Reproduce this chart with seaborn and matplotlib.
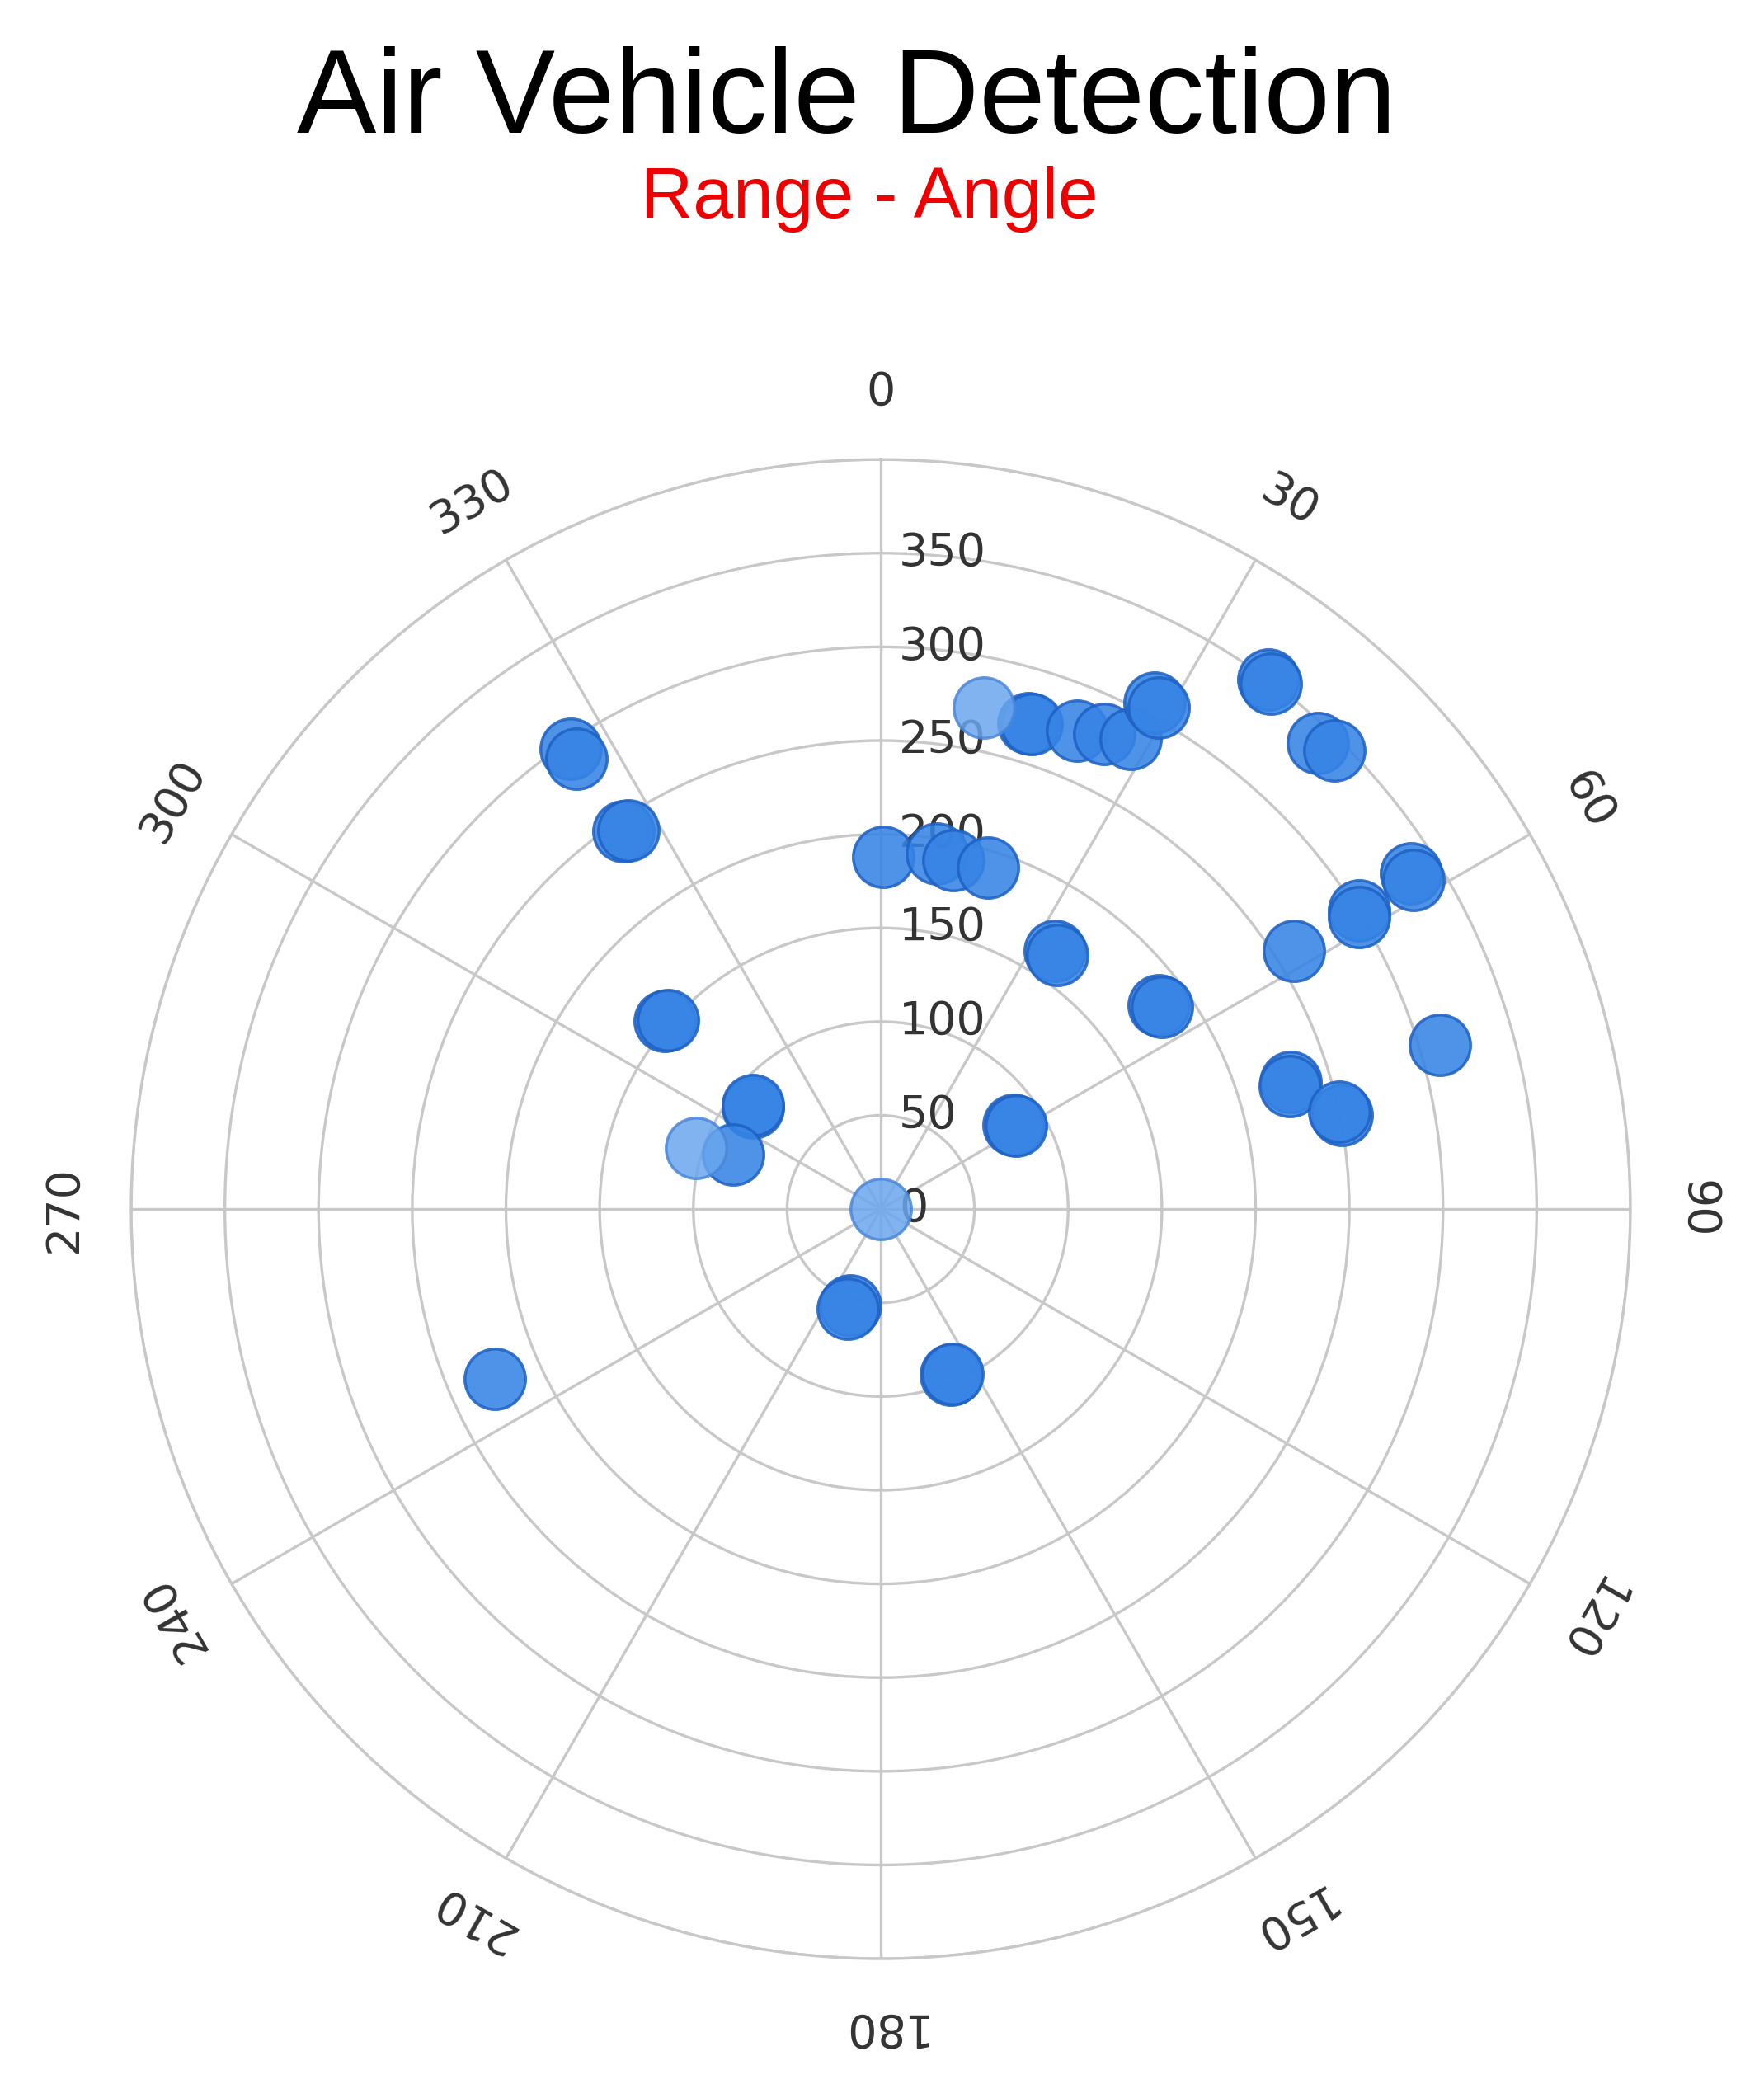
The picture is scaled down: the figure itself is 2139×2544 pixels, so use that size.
import numpy as np
import pandas as pd
from matplotlib import pyplot as plt
import seaborn as sns

sns.set_style("white")
plt.rcParams["font.family"] = ["DejaVu Sans"]

# detections: bearing (deg, clockwise from north) and range
bearing = [0, 11.6, 16.9, 17.3, 22.3, 25.2, 28.0, 28.4, 29.0, 36.2, 36.6, 43.2, 44.7,
           57.7, 58.3, 58.0, 58.6, 58.0, 73.6, 72.8, 73.3, 78.5, 78.0, 53.7, 54.3,
           34.0, 34.8, 57.5, 58.3, 0.4, 9.0, 11.7, 17.4, 326.0, 326.0, 325.8, 326.3,
           311.0, 311.6, 308.4, 309.0, 290.4, 288.4, 246.2, 197.7, 198.3, 157.2, 156.5]
rng = [0, 273, 271, 271, 276, 280, 284, 307, 306, 350, 349, 341, 344,
       335, 334, 301, 299, 260, 311, 229, 228, 251, 250, 184, 185,
       166, 165, 84, 85, 188, 192, 190, 191, 296, 290, 244, 243,
       153, 152, 87, 88, 84, 104, 225, 54, 56, 96, 96]
light = [1, 1] + [0] * 40 + [1] + [0] * 5

df = pd.DataFrame({"theta": np.deg2rad(bearing), "r": rng, "light": light})

angle_ticks = list(range(0, 360, 30))
range_ticks = list(range(0, 400, 50))

fig = plt.figure(figsize=(21.39, 25.44), dpi=100)
ax = fig.add_axes([0.0743, 0.0664, 0.85, 0.7146], projection="polar")
ax.set_theta_zero_location("N")
ax.set_theta_direction(-1)
ax.set_ylim(0, 400)

sns.scatterplot(data=df[df["light"] == 0], x="theta", y="r", ax=ax, s=2800,
                color="#3684e6", edgecolor="#1e62c4", linewidth=2.5, alpha=0.88,
                zorder=3, legend=False)
sns.scatterplot(data=df[df["light"] == 1], x="theta", y="r", ax=ax, s=2800,
                color="#6aa6ee", edgecolor="#4a86d8", linewidth=2.5, alpha=0.85,
                zorder=3, legend=False)

# grid
ax.set_xticks(np.deg2rad(angle_ticks))
ax.set_yticks(list(range(50, 450, 50)))
ax.set_xticklabels([])
ax.set_yticklabels([])
ax.set_xlabel("")
ax.set_ylabel("")
ax.grid(True, color="#c8c8c8", linewidth=2.4)
ax.spines["polar"].set_color("#c8c8c8")
ax.spines["polar"].set_linewidth(2.4)

# angle labels, rotated along the circle
for a in angle_ticks:
    ax.text(np.deg2rad(a), 436, str(a), rotation=-a, rotation_mode="anchor",
            ha="center", va="center", fontsize=40, color="#333333")

# range labels next to the north axis
for r in range_ticks:
    ax.annotate(str(r), xy=(0, r), xytext=(22, 0), textcoords="offset pixels",
                ha="left", va="center", fontsize=40, color="#333333", zorder=2)

fig.text(0.48, 0.9515, "Air Vehicle Detection", ha="center", va="center",
         fontsize=104, family=["Liberation Sans"], color="black")
fig.text(0.493, 0.905, "Range - Angle", ha="center", va="center",
         fontsize=63, family=["Liberation Sans"], color="#ee0000")

fig.savefig("out.png", dpi=100)
